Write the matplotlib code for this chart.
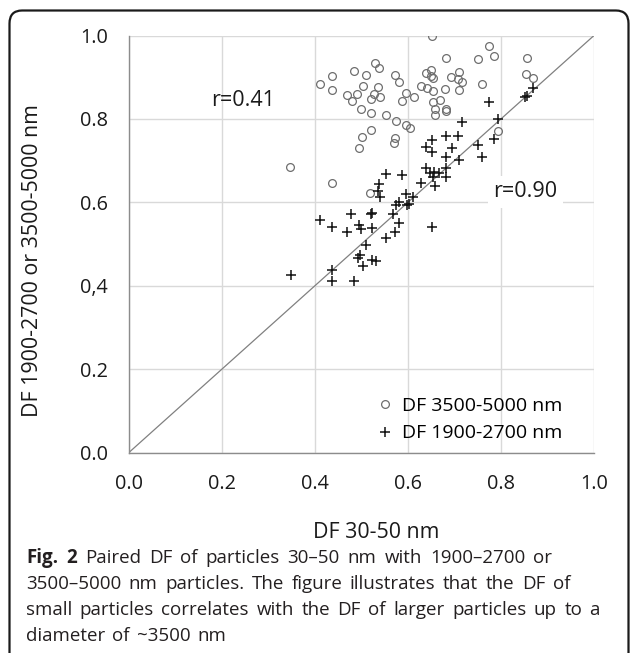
#!/usr/bin/env python3
# -*- coding: utf-8 -*-
"""
plot.py
Paired DF of 30-50 nm particles against 1900-2700 / 3500-5000 nm particles
"""

import matplotlib
matplotlib.use('Agg')
import matplotlib.pyplot as plt
from matplotlib.patches import FancyBboxPatch

plt.rcParams['font.family'] = ['Open Sans', 'DejaVu Sans']

# DF 3500-5000 nm (open circles): x = DF 30-50 nm, y = DF 3500-5000 nm
coarse_x = [0.652, 0.775, 0.786, 0.682, 0.750, 0.855, 0.529, 0.539, 0.650, 0.485,
            0.710, 0.638, 0.573, 0.511, 0.853, 0.650, 0.654, 0.693, 0.708, 0.870,
            0.437, 0.717, 0.582, 0.411, 0.760, 0.503, 0.629, 0.536, 0.642, 0.438,
            0.680, 0.709, 0.653, 0.596, 0.490, 0.470, 0.528, 0.521, 0.541, 0.613,
            0.479, 0.588, 0.653, 0.669, 0.499, 0.521, 0.553, 0.659, 0.659, 0.682,
            0.682, 0.575, 0.597, 0.604, 0.520, 0.793, 0.501, 0.573, 0.571, 0.496,
            0.347, 0.437, 0.519]
coarse_y = [1.000, 0.975, 0.952, 0.946, 0.943, 0.946, 0.933, 0.923, 0.918, 0.914,
            0.913, 0.910, 0.906, 0.905, 0.907, 0.903, 0.897, 0.900, 0.895, 0.899,
            0.902, 0.888, 0.889, 0.883, 0.883, 0.879, 0.878, 0.876, 0.873, 0.870,
            0.872, 0.870, 0.868, 0.863, 0.861, 0.857, 0.861, 0.848, 0.853, 0.852,
            0.842, 0.844, 0.841, 0.845, 0.823, 0.814, 0.810, 0.823, 0.810, 0.823,
            0.819, 0.796, 0.785, 0.779, 0.773, 0.772, 0.757, 0.755, 0.742, 0.730,
            0.686, 0.647, 0.623]

# DF 1900-2700 nm (plus signs)
fine_x = [0.775, 0.852, 0.855, 0.870, 0.717, 0.794, 0.681, 0.708, 0.651, 0.640,
          0.694, 0.750, 0.786, 0.651, 0.681, 0.711, 0.760, 0.638, 0.681, 0.553,
          0.587, 0.648, 0.656, 0.667, 0.654, 0.681, 0.628, 0.659, 0.537, 0.535,
          0.541, 0.612, 0.596, 0.581, 0.574, 0.599, 0.603, 0.478, 0.521, 0.524,
          0.569, 0.411, 0.437, 0.495, 0.499, 0.522, 0.580, 0.652, 0.470, 0.573,
          0.553, 0.511, 0.498, 0.492, 0.522, 0.531, 0.503, 0.437, 0.348, 0.437,
          0.485]
fine_y = [0.840, 0.853, 0.856, 0.875, 0.792, 0.799, 0.760, 0.760, 0.750, 0.733,
          0.730, 0.737, 0.751, 0.720, 0.708, 0.702, 0.709, 0.682, 0.683, 0.669,
          0.665, 0.671, 0.672, 0.671, 0.660, 0.660, 0.647, 0.639, 0.643, 0.627,
          0.613, 0.613, 0.620, 0.600, 0.595, 0.593, 0.597, 0.573, 0.573, 0.575,
          0.573, 0.557, 0.542, 0.545, 0.537, 0.538, 0.550, 0.542, 0.529, 0.529,
          0.515, 0.497, 0.475, 0.467, 0.461, 0.460, 0.448, 0.437, 0.427, 0.411,
          0.411]

ticks = [0.0, 0.2, 0.4, 0.6, 0.8, 1.0]
xtick_labels = ['0.0', '0.2', '0.4', '0.6', '0.8', '1.0']
ytick_labels = ['0.0', '0.2', '0,4', '0.6', '0.8', '1.0']

caption_lines = [
    'Paired DF of particles 30\u201350 nm with 1900\u20132700 or',
    '3500\u20135000 nm particles. The figure illustrates that the DF of',
    'small particles correlates with the DF of larger particles up to a',
    'diameter of ~3500 nm',
]
# right end of each caption line in the reference (px), for word spacing
caption_ends = [552, 570, 600, None]

W, H = 630, 653
fig = plt.figure(figsize=(W / 100, H / 100), dpi=100)

# rounded frame around the figure + caption
frame = FancyBboxPatch((9.5 / W, -20 / H), 619 / W, (H - 10.5 + 20) / H,
                       boxstyle='round,pad=0,rounding_size=0.02',
                       transform=fig.transFigure, facecolor='none',
                       edgecolor='#1a1a1a', linewidth=1.6)
fig.patches.append(frame)

ax = fig.add_axes([128.6 / W, 1 - 452.8 / H, (594 - 128.6) / W, (452.8 - 35.5) / H])

ax.plot([0, 1], [0, 1], color='#808080', lw=0.9, zorder=2)
ax.plot(coarse_x, coarse_y, 'o', ms=5.6, mfc='none', mec='#6e6e6e', mew=0.9,
        label='DF 3500-5000 nm', zorder=3)
ax.plot(fine_x, fine_y, '+', ms=6.8, color='#111111', mew=1.1,
        label='DF 1900-2700 nm', zorder=3)

ax.set_xlim(0, 1)
ax.set_ylim(0, 1)
ax.set_xticks(ticks)
ax.set_xticklabels(xtick_labels)
ax.set_yticks(ticks)
ax.set_yticklabels(ytick_labels)
ax.tick_params(length=0, labelsize=14.3, colors='#1a1a1a', pad=15)
ax.grid(True, color='#d9d9d9', lw=1.0)
ax.set_axisbelow(True)
for side in ['top', 'right']:
    ax.spines[side].set_visible(False)
for side in ['left', 'bottom']:
    ax.spines[side].set_color('#8c8c8c')
    ax.spines[side].set_linewidth(1.0)

ax.set_xlabel('DF 30-50 nm', fontsize=15.4, color='#1a1a1a')
ax.set_ylabel('DF 1900-2700 or 3500-5000 nm', fontsize=15.4, color='#1a1a1a')
ax.xaxis.set_label_coords(0.532, -0.167)
ax.yaxis.set_label_coords(-0.184, 0.46)

ax.text(0.177, 0.845, 'r=0.41', fontsize=15.5, va='center', ha='left', color='#1a1a1a')
ax.text(0.784, 0.625, 'r=0.90', fontsize=15.5, va='center', ha='left', color='#1a1a1a',
        bbox=dict(facecolor='white', edgecolor='none', pad=4), zorder=4)

ax.legend(loc='lower left', bbox_to_anchor=(0.53, 0.025), frameon=False,
          fontsize=14.0, handlelength=1.0, handletextpad=0.35,
          labelspacing=0.5, borderaxespad=0, borderpad=0)

# caption, word spacing stretched to the reference line ends
left_px = 26
line_y = [558, 584, 610, 636]
cap_size = 13.5
renderer = fig.canvas.get_renderer()
for i, line in enumerate(caption_lines):
    words = line.split(' ')
    if i == 0:
        words = ['Fig.', '2'] + words
    weights = ['bold' if (i == 0 and k < 2) else 'normal' for k in range(len(words))]
    arts = []
    for w, wt in zip(words, weights):
        t = fig.text(0, 1 - line_y[i] / H, w, fontsize=cap_size, fontweight=wt,
                     color='#231f20', va='center', ha='left')
        arts.append(t)
    widths = [a.get_window_extent(renderer).width for a in arts]
    if caption_ends[i] is not None:
        gap = (caption_ends[i] - left_px - sum(widths)) / (len(words) - 1)
    else:
        gap = 7.0
    x = left_px
    for a, wd in zip(arts, widths):
        a.set_x(x / W)
        x += wd + gap

fig.savefig('out.png', dpi=100)
